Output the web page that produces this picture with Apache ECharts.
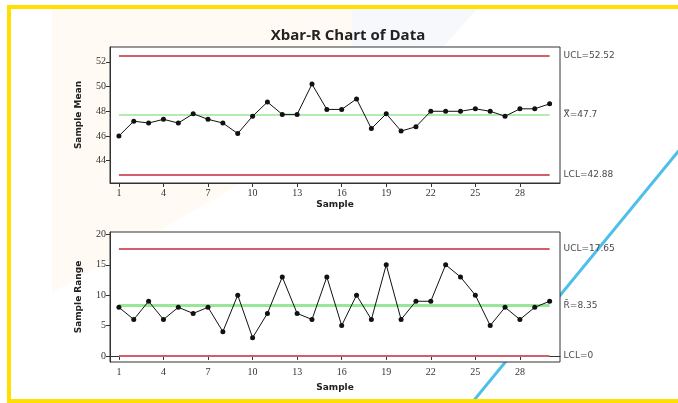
<!DOCTYPE html>
<html><head><meta charset="utf-8">
<script src="https://cdn.jsdelivr.net/npm/echarts@6/dist/echarts.min.js"></script>
<style>html,body{margin:0;padding:0;background:#fff}#c{width:678px;height:403px}</style>
</head><body><div id="c"></div>
<script>
const samples = Array.from({length:30},(_,i)=>i+1);
const xTicks = [1,4,7,10,13,16,19,22,25,28];
const meanValues = [46.0,47.2,47.05,47.35,47.05,47.8,47.35,47.05,46.2,47.6,48.75,47.75,47.75,50.2,48.15,48.15,49.0,46.6,47.8,46.4,46.75,48.0,48.0,48.0,48.2,48.0,47.6,48.2,48.2,48.6];
const rangeValues = [8,6,9,6,8,7,8,4,10,3,7,13,7,6,13,5,10,6,15,6,9,9,15,13,10,5,8,6,8,9];
const meanTicks = [44,46,48,50,52];
const rangeTicks = [0,5,10,15,20];
const meanLimits = {ucl:52.52, cl:47.7, lcl:42.88};
const rangeLimits = {ucl:17.65, cl:8.35, lcl:0};
const meanLabels = ['UCL=52.52','X\u033F=47.7','LCL=42.88'];
const rangeLabels = ['UCL=17.65','R\u0304=8.35','LCL=0'];

const chart = echarts.init(document.getElementById('c'));
const tickFont = {fontFamily:'Liberation Serif', fontSize:10, color:'#333'};
const red = '#d0606e', green = '#98e698';
function limitLines(lim, labels, gw){
  const mk = (v, txt, color, w) => [
    {coord:[1,v], lineStyle:{color, width:w, type:'solid'}, label:{show:true, position:'end', formatter:txt, distance:14, fontFamily:'DejaVu Sans', fontSize:9, color:'#4a4a4a'}},
    {coord:[30,v]}
  ];
  return {silent:true, symbol:'none', animation:false,
    data:[mk(lim.ucl,labels[0],red,2), mk(lim.cl,labels[1],green,gw), mk(lim.lcl,labels[2],red,2)]};
}
function xAx(gi, gap){
  return {type:'value', gridIndex:gi, min:0.4, max:30.7, name:'Sample', nameLocation:'middle', nameGap:gap,
    nameTextStyle:{fontFamily:'DejaVu Sans', fontWeight:'bold', fontSize:9, color:'#222'},
    splitLine:{show:false},
    axisLine:{show:true, lineStyle:{color:'#333', width:1}},
    axisTick:{show:true, length:4, customValues:xTicks, lineStyle:{color:'#333'}},
    axisLabel:{customValues:xTicks, margin:5, ...tickFont}};
}
function yAx(gi, min, max, ticks, name){
  return {type:'value', gridIndex:gi, min, max, name, nameLocation:'middle', nameGap:27,
    nameTextStyle:{fontFamily:'DejaVu Sans', fontWeight:'bold', fontSize:9, color:'#222'},
    splitLine:{show:false},
    axisLine:{show:true, lineStyle:{color:'#333', width:1}},
    axisTick:{show:true, length:4, customValues:ticks, lineStyle:{color:'#333'}},
    axisLabel:{customValues:ticks, margin:4, ...tickFont}};
}
chart.setOption({
  animation:false,
  backgroundColor:'#ffffff',
  graphic:[
    {type:'polygon', z:-10, shape:{points:[[52,9],[352,9],[352,119],[52,293]]}, style:{fill:'#fffbf4'}},
    {type:'polygon', z:-10, shape:{points:[[352,9],[477,9],[352,150]]}, style:{fill:'#f6f8fc'}},
    {type:'line', z:-5, shape:{x1:690, y1:137, x2:466, y2:410}, style:{stroke:'#4dbfea', lineWidth:3}},
    {type:'rect', z:100, shape:{x:9, y:7, width:700, height:394}, style:{fill:null, stroke:'#ffdf00', lineWidth:4}}
  ],
  title:{text:'Xbar-R Chart of Data', left:343, top:23, textAlign:'center',
    textStyle:{fontFamily:'Open Sans', fontWeight:'bold', fontSize:15, color:'#222'}},
  grid:[
    {left:110, width:450, top:47, height:136, show:true, backgroundColor:'#fff', borderColor:'#333', borderWidth:1, z:0},
    {left:110, width:450, top:232, height:130, show:true, backgroundColor:'#fff', borderColor:'#333', borderWidth:1, z:0}
  ],
  xAxis:[xAx(0, 17), xAx(1, 21)],
  yAxis:[yAx(0, 42.2, 53.2, meanTicks, 'Sample Mean'), yAx(1, -1, 20.4, rangeTicks, 'Sample Range')],
  series:[
    {type:'line', xAxisIndex:0, yAxisIndex:0, data:samples.map((s,i)=>[s, meanValues[i]]),
      symbol:'circle', symbolSize:5, itemStyle:{color:'#111'}, lineStyle:{color:'#111', width:1},
      markLine:limitLines(meanLimits, meanLabels, 1.5), z:5},
    {type:'line', xAxisIndex:1, yAxisIndex:1, data:samples.map((s,i)=>[s, rangeValues[i]]),
      symbol:'circle', symbolSize:5, itemStyle:{color:'#111'}, lineStyle:{color:'#111', width:1},
      markLine:limitLines(rangeLimits, rangeLabels, 3), z:5}
  ]
});
</script></body></html>
